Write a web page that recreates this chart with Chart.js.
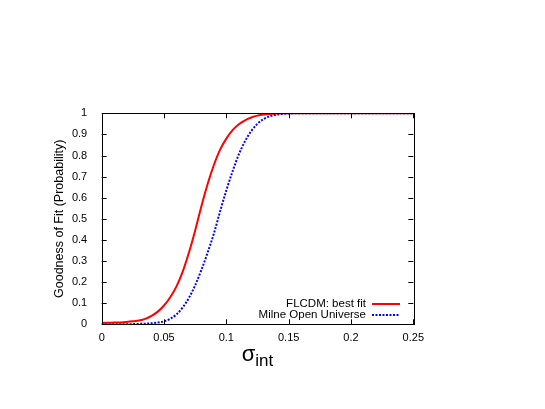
<!DOCTYPE html>
<html>
<head>
<meta charset="utf-8">
<script src="https://cdn.jsdelivr.net/npm/chart.js@4"></script>
<style>
  html, body { margin: 0; padding: 0; background: #fff; }
  #wrap { width: 545px; height: 409px; }
</style>
</head>
<body>
<div id="wrap"><canvas id="fitChart" width="545" height="409"></canvas></div>
<script>
// sigma_int values and probabilities
const sigma = [0, 0.005, 0.01, 0.015, 0.02, 0.025, 0.03, 0.035, 0.04, 0.045,
  0.05, 0.055, 0.06, 0.065, 0.07, 0.075, 0.08, 0.085, 0.09, 0.095,
  0.1, 0.105, 0.11, 0.115, 0.12, 0.125, 0.13, 0.135, 0.14, 0.145,
  0.15, 0.155, 0.16, 0.18, 0.2, 0.22, 0.25];
const flcdm = [0.006, 0.007, 0.008, 0.009, 0.011, 0.014, 0.018, 0.026, 0.040, 0.060,
  0.089, 0.128, 0.18, 0.25, 0.34, 0.445, 0.56, 0.665, 0.755, 0.828,
  0.88, 0.92, 0.948, 0.967, 0.98, 0.989, 0.994, 0.997, 0.999, 1,
  1, 1, 1, 1, 1, 1, 1];
const milne = [0, 0, 0, 0, 0, 0.001, 0.002, 0.003, 0.005, 0.008,
  0.014, 0.026, 0.047, 0.08, 0.125, 0.185, 0.258, 0.34, 0.43, 0.535,
  0.635, 0.725, 0.805, 0.868, 0.916, 0.951, 0.973, 0.986, 0.993, 0.997,
  0.999, 1, 1, 1, 1, 1, 1];
const xTicks = [0, 0.05, 0.1, 0.15, 0.2, 0.25];
const yTicks = [0, 0.1, 0.2, 0.3, 0.4, 0.5, 0.6, 0.7, 0.8, 0.9, 1];
const seriesNames = ["FLCDM: best fit", "Milne Open Universe"];

const FONT = "'Liberation Sans', Arial, sans-serif";

function toPoints(xs, ys) {
  return xs.map((x, i) => ({ x: x, y: ys[i] }));
}

// gnuplot style: ticks pointing inward on all four sides, border, titles, legend
const gnuplotDecor = {
  id: "gnuplotDecor",
  afterDraw(chart) {
    const ctx = chart.ctx;
    const a = chart.chartArea;
    const xs = chart.scales.x;
    const ys = chart.scales.y;
    ctx.save();

    // ticks
    ctx.strokeStyle = "#000";
    ctx.lineWidth = 1;
    const len = 5;
    ctx.beginPath();
    xTicks.forEach(v => {
      const px = Math.round(xs.getPixelForValue(v)) + 0.5;
      ctx.moveTo(px, a.bottom); ctx.lineTo(px, a.bottom - len);
      ctx.moveTo(px, a.top); ctx.lineTo(px, a.top + len);
    });
    yTicks.forEach(v => {
      const py = Math.round(ys.getPixelForValue(v)) + 0.5;
      ctx.moveTo(a.left, py); ctx.lineTo(a.left + len, py);
      ctx.moveTo(a.right, py); ctx.lineTo(a.right - len, py);
    });
    ctx.stroke();

    // border
    ctx.strokeRect(Math.round(a.left) + 0.5, Math.round(a.top) + 0.5,
      Math.round(a.right - a.left), Math.round(a.bottom - a.top));

    // y axis title
    ctx.fillStyle = "#000";
    ctx.font = "12.5px " + FONT;
    ctx.textAlign = "center";
    ctx.textBaseline = "middle";
    ctx.save();
    ctx.translate(60, (a.top + a.bottom) / 2);
    ctx.rotate(-Math.PI / 2);
    ctx.fillText("Goodness of Fit (Probability)", 0, 0);
    ctx.restore();

    // x axis title: sigma with subscript "int"
    ctx.textAlign = "left";
    ctx.textBaseline = "alphabetic";
    ctx.font = "22px " + FONT;
    const sw = ctx.measureText("σ").width;
    ctx.font = "17px " + FONT;
    const iw = ctx.measureText("int").width;
    const x0 = (a.left + a.right) / 2 - (sw + iw) / 2;
    ctx.font = "22px " + FONT;
    ctx.fillText("σ", x0, 361);
    ctx.font = "17px " + FONT;
    ctx.fillText("int", x0 + sw, 365.5);

    // legend
    ctx.font = "11.5px " + FONT;
    ctx.textAlign = "right";
    ctx.textBaseline = "middle";
    const rows = [
      { label: seriesNames[0], color: "#ff0000", dash: [], y: 304 },
      { label: seriesNames[1], color: "#0000ff", dash: [2, 1.5], y: 315 }
    ];
    rows.forEach(r => {
      ctx.fillText(r.label, 366, r.y);
      ctx.strokeStyle = r.color;
      ctx.lineWidth = 2;
      ctx.setLineDash(r.dash);
      ctx.beginPath();
      ctx.moveTo(372, r.y); ctx.lineTo(400, r.y);
      ctx.stroke();
    });
    ctx.restore();
  }
};

new Chart(document.getElementById("fitChart"), {
  type: "line",
  data: {
    datasets: [
      {
        label: seriesNames[0],
        data: toPoints(sigma, flcdm),
        borderColor: "#ff0000",
        borderWidth: 2,
        pointRadius: 0,
        cubicInterpolationMode: "monotone"
      },
      {
        label: seriesNames[1],
        data: toPoints(sigma, milne),
        borderColor: "#0000ff",
        borderWidth: 2,
        borderDash: [2, 1.5],
        pointRadius: 0,
        cubicInterpolationMode: "monotone"
      }
    ]
  },
  options: {
    responsive: false,
    animation: false,
    layout: { padding: { left: 0, right: 131.7, top: 113.3, bottom: 0 } },
    plugins: {
      legend: { display: false },
      tooltip: { enabled: false }
    },
    scales: {
      x: {
        type: "linear",
        min: 0,
        max: 0.25,
        afterFit: s => { s.height = 409 - 324.3; },
        afterBuildTicks: s => { s.ticks = xTicks.map(v => ({ value: v })); },
        grid: { display: false },
        border: { display: false },
        ticks: {
          color: "#000",
          font: { family: FONT, size: 11 },
          padding: -0.5,
          maxRotation: 0,
          callback: v => String(v)
        }
      },
      y: {
        min: 0,
        max: 1,
        afterFit: s => { s.width = 101.7; },
        afterBuildTicks: s => { s.ticks = yTicks.map(v => ({ value: v })); },
        grid: { display: false },
        border: { display: false },
        ticks: {
          color: "#000",
          font: { family: FONT, size: 11 },
          padding: 6.5,
          callback: v => String(v)
        }
      }
    }
  },
  plugins: [gnuplotDecor]
});
</script>
</body>
</html>
